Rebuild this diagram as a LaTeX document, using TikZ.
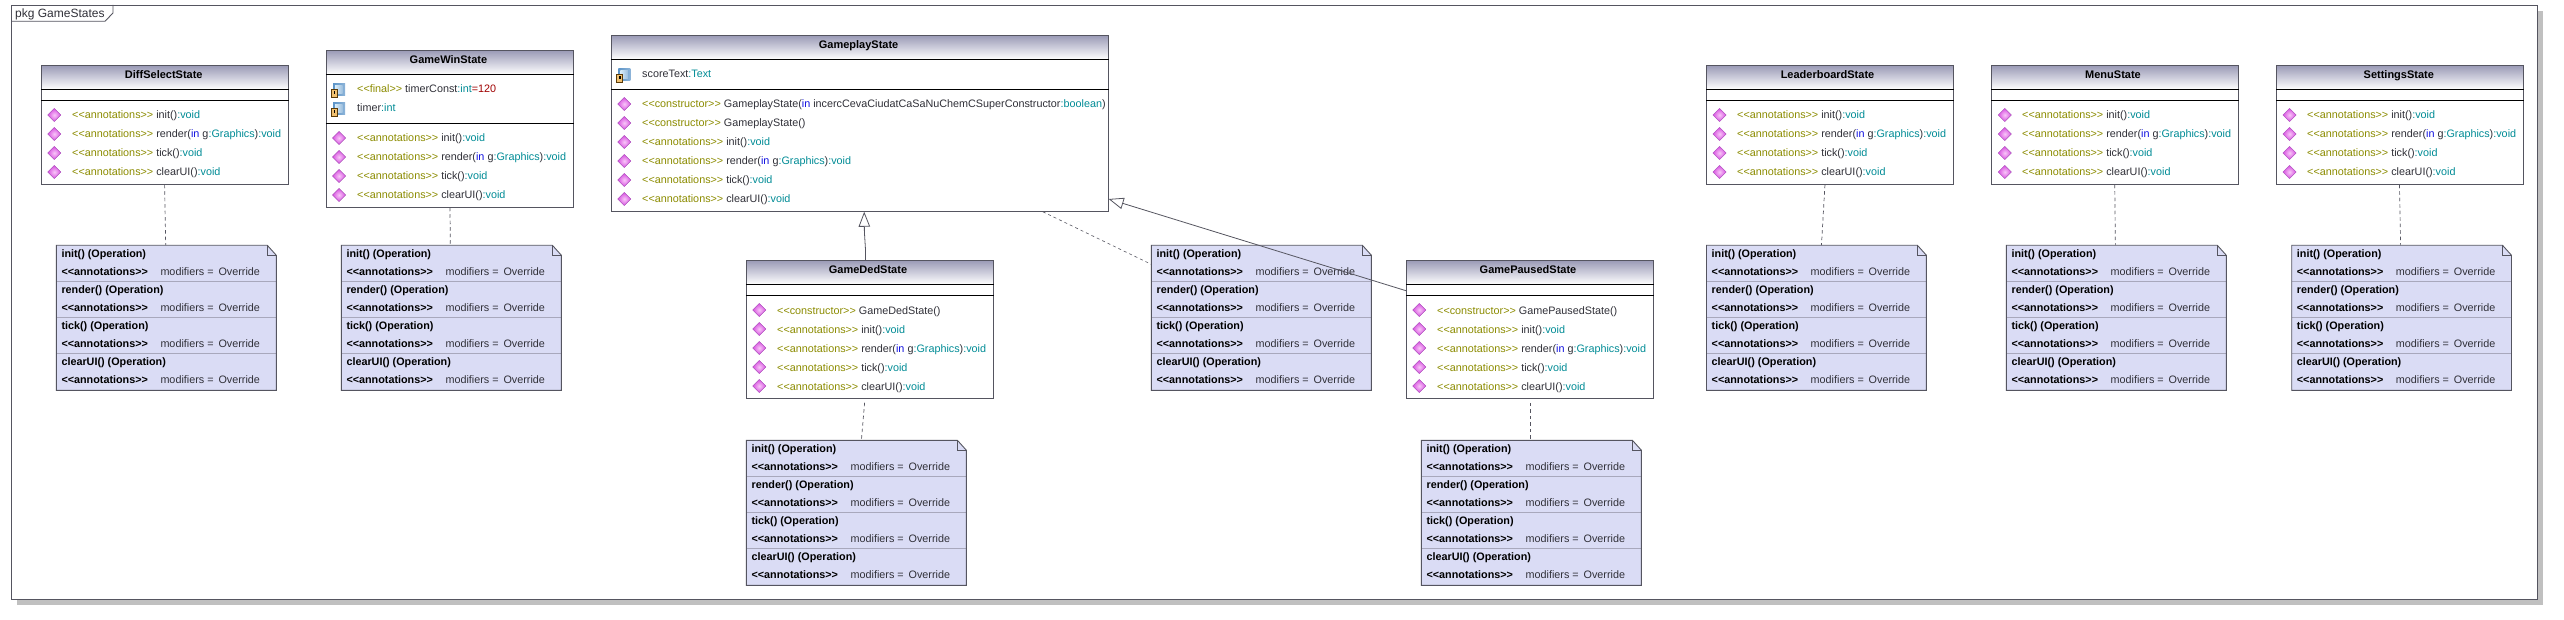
\documentclass[tikz,border=0pt]{standalone}
\usepackage{fontspec}
\setmainfont{Liberation Sans}
\usetikzlibrary{arrows.meta}
\definecolor{edgegray}{HTML}{555560}
\definecolor{notefill}{HTML}{DADCF5}
\definecolor{notesep}{HTML}{A8A8BC}
\definecolor{titletop}{HTML}{9A9AB6}
\definecolor{kwolive}{HTML}{8C8C00}
\definecolor{typeteal}{HTML}{008C96}
\definecolor{inblue}{HTML}{1010E0}
\definecolor{valred}{HTML}{A00000}
\definecolor{nametxt}{HTML}{303038}
\definecolor{shadowgray}{HTML}{C0C0C0}
\definecolor{diafill}{HTML}{D850E0}
\definecolor{diacore}{HTML}{F8C8F8}
\definecolor{dialine}{HTML}{C060D0}
\definecolor{sqlight}{HTML}{D8ECF8}
\definecolor{sqdark}{HTML}{5C94C8}
\definecolor{lockfill}{HTML}{F0C070}
\definecolor{lockline}{HTML}{5A3A08}
\tikzset{
  x=1pt,y=-1pt,
  boxedge/.style={draw=edgegray,line width=0.9pt},
  txt/.style={inner sep=0pt,anchor=base west,font=\fontsize{10.8}{12}\selectfont},
  titletxt/.style={inner sep=0pt,anchor=base,font=\fontsize{11}{12}\selectfont\bfseries},
  dep/.style={draw=edgegray,line width=0.7pt,dash pattern=on 3.5pt off 3pt},
  gen/.style={draw=edgegray,line width=0.8pt,-{Triangle[open,fill=white,length=15pt,width=11.5pt]}},
}
\newcommand{\opicon}[2]{%
  \fill[inner color=diacore,outer color=diafill] (#1-6.5,#2) -- (#1,#2-6.5) -- (#1+6.5,#2) -- (#1,#2+6.5) -- cycle;
  \draw[draw=dialine,line width=0.5pt] (#1-6.5,#2) -- (#1,#2-6.5) -- (#1+6.5,#2) -- (#1,#2+6.5) -- cycle;
}
\newcommand{\attricon}[2]{%
  \shade[left color=sqdark,right color=sqdark!70] (#1-6,#2-5) rectangle (#1+6,#2+7);
  \shade[left color=sqlight,right color=sqdark!60] (#1-4,#2-3.5) rectangle (#1+3.5,#2+4.5);
  \fill[lockfill,draw=lockline,line width=0.8pt] (#1-7.6,#2+0.5) rectangle (#1-1.6,#2+8.7);
  \fill[black] (#1-5.4,#2+2.5) rectangle (#1-3.8,#2+5);
}
% class box: name, x1,y1,x2,y2, title line y, attribute line y, title centre x, title
\newcommand{\classbox}[9]{%
  \shade[top color=titletop,bottom color=white] (#2,#3) rectangle (#4,#6);
  \node[boxedge,rectangle,inner sep=0pt,minimum width={(#4-#2)*1pt},minimum height={(#5-#3)*1pt}] (#1) at ({(#2+#4)/2},{(#3+#5)/2}) {};
  \draw[black,line width=0.9pt] (#1.west |- 0,#6) -- (#1.east |- 0,#6);
  \draw[black,line width=0.9pt] (#1.west |- 0,#7) -- (#1.east |- 0,#7);
  \node[titletxt] (#1-title) at (#8,#3+13) {#9};
}
% operation row: icon x, text x, centre y, text
\newcommand{\oprow}[4]{%
  \opicon{#1}{#3}
  \node[txt] at (#2,#3+4) {#4};
}
\newcommand{\attrrow}[4]{%
  \attricon{#1}{#3}
  \node[txt] at (#2,#3+4) {#4};
}
\newcommand{\kw}[1]{\textcolor{kwolive}{\mbox{<}\mbox{<}#1\mbox{>}\mbox{>}}}
\newcommand{\nm}[1]{\textcolor{nametxt}{#1}}
\newcommand{\ty}[1]{\textcolor{typeteal}{#1}}
\newcommand{\inw}{\textcolor{inblue}{in}}
\newcommand{\opinit}{\kw{annotations} \nm{init()}\ty{:void}}
\newcommand{\oprender}{\kw{annotations} \nm{render(}\inw\ \nm{g}\ty{:Graphics}\nm{)}\ty{:void}}
\newcommand{\optick}{\kw{annotations} \nm{tick()}\ty{:void}}
\newcommand{\opclear}{\kw{annotations} \nm{clearUI()}\ty{:void}}
% four standard operations: icon x, text x, first y
\newcommand{\fourops}[3]{%
  \oprow{#1}{#2}{#3}{\opinit}
  \oprow{#1}{#2}{#3+19}{\oprender}
  \oprow{#1}{#2}{#3+38}{\optick}
  \oprow{#1}{#2}{#3+57}{\opclear}
}
% note rows
\newcommand{\noterow}[3]{%
  \node[txt] at (#1+5,#2+12.5) {\textbf{#3() (Operation)}};
  \node[txt] at (#1+5,#2+30.5) {\textbf{\mbox{<}\mbox{<}annotations\mbox{>}\mbox{>}}};
  \node[txt] at (#1+104,#2+30.5) {\textcolor{nametxt}{modifiers =}};
  \node[txt] at (#1+162,#2+30.5) {\textcolor{nametxt}{Override}};
}
\newcommand{\notebox}[4]{%
  \path[fill=notefill] (#2,#3) -- (#4-9,#3) -- (#4,#3+10) -- (#4,#3+145) -- (#2,#3+145) -- cycle;
  \node[inner sep=0pt,rectangle,minimum width={(#4-#2)*1pt},minimum height=145pt] (#1) at ({(#2+#4)/2},#3+72.5) {};
  \draw[notesep,line width=0.8pt] (#2,#3+36) -- (#4,#3+36) (#2,#3+72) -- (#4,#3+72) (#2,#3+108) -- (#4,#3+108);
  \draw[boxedge] (#2,#3) -- (#4-9,#3) -- (#4,#3+10) -- (#4,#3+145) -- (#2,#3+145) -- cycle;
  \draw[edgegray,line width=0.6pt] (#4-9,#3) -- (#4-9,#3+10) -- (#4,#3+10);
  \noterow{#2}{#3}{init}
  \noterow{#2}{#3+36}{render}
  \noterow{#2}{#3+72}{tick}
  \noterow{#2}{#3+108}{clearUI}
}
\begin{document}
\begin{tikzpicture}
\useasboundingbox (0,0) rectangle (2564,620);
\fill[white] (0,0) rectangle (2564,620);
% shadow and frame
\fill[shadowgray] (17,11) rectangle (2543,604.7);
\fill[white] (11,5) rectangle (2537.5,599.3);
\node[boxedge,rectangle,inner sep=0pt,minimum width=2526.5pt,minimum height=594.3pt] (frame) at (1274.25,302.15) {};
\draw[boxedge] (11,21.3) -- (105,21.3) -- (113,13) -- (113,5);
\node[inner sep=0pt,anchor=base west,font=\fontsize{12}{13}\selectfont] (pkglabel) at (15,17.5) {\nm{pkg GameStates}};

% classes
\classbox{diff}{41.3}{65.3}{288.5}{184.3}{89.3}{100.3}{163.8}{DiffSelectState}
\fourops{54.3}{72}{115}

\classbox{win}{326.4}{50.3}{573.6}{207.3}{74.3}{123.3}{448.5}{GameWinState}
\attrrow{339}{357}{89}{\kw{final} \nm{timerConst}\ty{:int}\textcolor{valred}{=120}}
\attrrow{339}{357}{108}{\nm{timer}\ty{:int}}
\fourops{339}{357}{138}

\classbox{play}{611.4}{35.3}{1108.2}{211.3}{59.3}{89.3}{858.6}{GameplayState}
\attrrow{624.3}{642}{74}{\nm{scoreText}\ty{:Text}}
\oprow{624.3}{642}{104}{\kw{constructor} \nm{GameplayState(}\inw\ \nm{incercCevaCiudatCaSaNuChemCSuperConstructor}\ty{:boolean}\nm{)}}
\oprow{624.3}{642}{123}{\kw{constructor} \nm{GameplayState()}}
\fourops{624.3}{642}{142}

\classbox{ded}{746.4}{260.3}{993.2}{398.3}{284.3}{295.3}{868}{GameDedState}
\oprow{759.3}{777}{310}{\kw{constructor} \nm{GameDedState()}}
\fourops{759.3}{777}{329}

\classbox{paused}{1406.4}{260.3}{1653.2}{398.3}{284.3}{295.3}{1528}{GamePausedState}
\oprow{1419.3}{1437}{310}{\kw{constructor} \nm{GamePausedState()}}
\fourops{1419.3}{1437}{329}

\classbox{leader}{1706.5}{65.3}{1953.4}{184.3}{89.3}{100.3}{1827.5}{LeaderboardState}
\fourops{1719.5}{1737}{115}
\classbox{menu}{1991.8}{65.3}{2238.7}{184.3}{89.3}{100.3}{2113}{MenuState}
\fourops{2004.8}{2022}{115}
\classbox{settings}{2276.5}{65.3}{2523.4}{184.3}{89.3}{100.3}{2398.8}{SettingsState}
\fourops{2289.5}{2307}{115}

% notes
\notebox{ndiff}{56.3}{245.3}{276.3}
\notebox{nwin}{341.3}{245.3}{561.4}
\notebox{nplay}{1151.4}{245.3}{1371.4}
\notebox{nded}{746.4}{440.3}{966.4}
\notebox{npaused}{1421.4}{440.3}{1641.4}
\notebox{nleader}{1706.5}{245.3}{1926.4}
\notebox{nmenu}{2006.4}{245.3}{2226.3}
\notebox{nsettings}{2291.7}{245.3}{2511.5}

% note links
\draw[dep] ([xshift=-0.3pt]diff.south) -- ([xshift=-0.6pt]ndiff.north);
\draw[dep] (win.south) -- ([xshift=-1pt]nwin.north);
\draw[dep] ([xshift=-5.2pt,yshift=-4pt]ded.south) -- ([xshift=5pt]nded.north);
\draw[dep] ([xshift=0.6pt,yshift=-4pt]paused.south) -- ([xshift=-1pt]npaused.north);
\draw[dep] ([xshift=-5pt]leader.south) -- ([xshift=5pt]nleader.north);
\draw[dep] ([xshift=-0.5pt]menu.south) -- ([xshift=-1pt]nmenu.north);
\draw[dep] ([xshift=-0.5pt]settings.south) -- ([xshift=-1pt]nsettings.north);
\draw[dep,line width=0.6pt,dash pattern=on 3pt off 3pt] ([xshift=183pt]play.south) -- ([yshift=53.5pt]nplay.west);

% generalizations
\coordinate (gbend) at (865.4,248);
\draw[gen] ([xshift=-4.4pt]ded.north) -- (gbend) -- (864.4,232) -- ([xshift=4.4pt]play.south);
\draw[gen] ([yshift=38.6pt]paused.west) -- ([yshift=-75.7pt]play.east);
\end{tikzpicture}
\end{document}
